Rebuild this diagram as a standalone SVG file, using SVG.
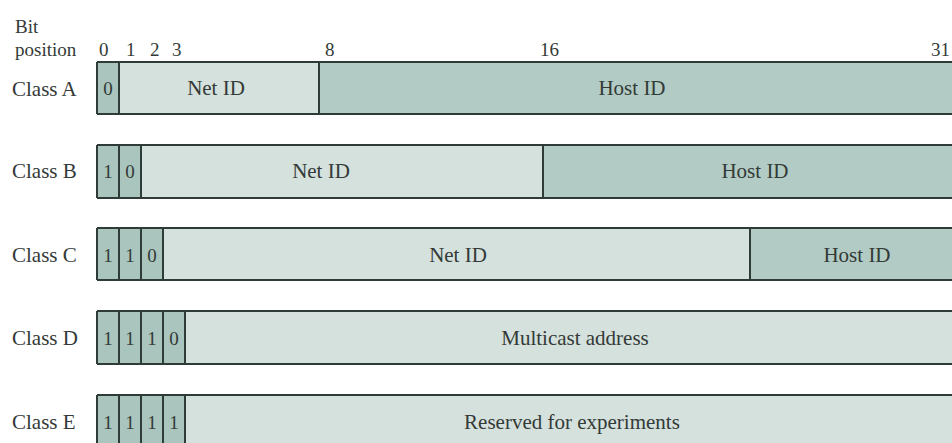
<svg xmlns="http://www.w3.org/2000/svg" width="952" height="443" viewBox="0 0 952 443">
<style>
text{font-family:"Liberation Serif","Times New Roman",serif;fill:#333a37}
.lbl{font-size:21px}
.fld{font-size:21px;text-anchor:middle}
.bit{font-size:19px;text-anchor:middle}
.hdr{font-size:19px}
.b{fill:#a9c5bd}
.n{fill:#d5e1dd}
.h{fill:#b2cbc4}
.ln{stroke:#2e3b36;stroke-width:2;fill:none}
</style>
<rect width="952" height="443" fill="#ffffff"/>
<g id="header">
<text class="hdr" x="15" y="33">Bit</text>
<text class="hdr" x="15" y="56">position</text>
<text class="hdr" x="99" y="56">0</text>
<text class="hdr" x="126" y="56">1</text>
<text class="hdr" x="150" y="56">2</text>
<text class="hdr" x="172" y="56">3</text>
<text class="hdr" x="325" y="56">8</text>
<text class="hdr" x="540" y="56">16</text>
<text class="hdr" x="931" y="56">31</text>
</g>
<g id="classA">
<text class="lbl" x="12" y="96">Class A</text>
<rect class="b" x="97" y="62" width="22" height="52"/>
<rect class="n" x="119" y="62" width="200" height="52"/>
<rect class="h" x="319" y="62" width="640" height="52"/>
<path class="ln" d="M97 62H952M97 114H952M97 62V114M119 62V114M319 62V114"/>
<text class="bit" x="108" y="95">0</text>
<text class="fld" x="216" y="95">Net ID</text>
<text class="fld" x="632" y="95">Host ID</text>
</g>
<g id="classB">
<text class="lbl" x="12" y="178">Class B</text>
<rect class="b" x="97" y="145" width="44" height="53"/>
<rect class="n" x="141" y="145" width="402" height="53"/>
<rect class="h" x="543" y="145" width="416" height="53"/>
<path class="ln" d="M97 145H952M97 198H952M97 145V198M119 145V198M141 145V198M543 145V198"/>
<text class="bit" x="108" y="178">1</text>
<text class="bit" x="130" y="178">0</text>
<text class="fld" x="321" y="178">Net ID</text>
<text class="fld" x="755" y="178">Host ID</text>
</g>
<g id="classC">
<text class="lbl" x="12" y="262">Class C</text>
<rect class="b" x="97" y="228" width="66" height="52"/>
<rect class="n" x="163" y="228" width="587" height="52"/>
<rect class="h" x="750" y="228" width="209" height="52"/>
<path class="ln" d="M97 228H952M97 280H952M97 228V280M119 228V280M141 228V280M163 228V280M750 228V280"/>
<text class="bit" x="108" y="262">1</text>
<text class="bit" x="130" y="262">1</text>
<text class="bit" x="152" y="262">0</text>
<text class="fld" x="458" y="262">Net ID</text>
<text class="fld" x="857" y="262">Host ID</text>
</g>
<g id="classD">
<text class="lbl" x="12" y="345">Class D</text>
<rect class="b" x="97" y="311" width="88" height="53"/>
<rect class="n" x="185" y="311" width="774" height="53"/>
<path class="ln" d="M97 311H952M97 364H952M97 311V364M119 311V364M141 311V364M163 311V364M185 311V364"/>
<text class="bit" x="108" y="345">1</text>
<text class="bit" x="130" y="345">1</text>
<text class="bit" x="152" y="345">1</text>
<text class="bit" x="174" y="345">0</text>
<text class="fld" x="575" y="345">Multicast address</text>
</g>
<g id="classE">
<text class="lbl" x="12" y="429">Class E</text>
<rect class="b" x="97" y="395" width="88" height="60"/>
<rect class="n" x="185" y="395" width="774" height="60"/>
<path class="ln" d="M97 395H952M97 395V455M119 395V455M141 395V455M163 395V455M185 395V455"/>
<text class="bit" x="108" y="429">1</text>
<text class="bit" x="130" y="429">1</text>
<text class="bit" x="152" y="429">1</text>
<text class="bit" x="174" y="429">1</text>
<text class="fld" x="572" y="429">Reserved for experiments</text>
</g>
<g id="connectors"/>
</svg>
